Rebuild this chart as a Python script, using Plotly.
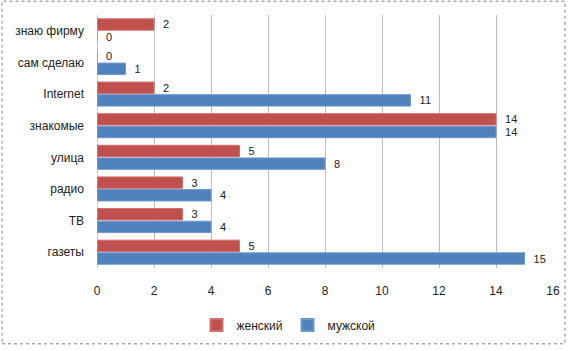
import plotly.graph_objects as go

categories = ["газеты", "ТВ", "радио", "улица", "знакомые", "Internet", "сам сделаю", "знаю фирму"]
female = [5, 3, 3, 5, 14, 2, 0, 2]
male = [15, 4, 4, 8, 14, 11, 1, 0]
x_ticks = [0, 2, 4, 6, 8, 10, 12, 14, 16]

W, H = 575, 351
L, R, T, B = 97, 22, 15, 79
pw = W - L - R
ph = H - T - B

font = "Liberation Sans, Arial, sans-serif"

fig = go.Figure()
fig.add_trace(go.Bar(
    y=categories, x=male, name="мужской", orientation="h",
    marker=dict(color="#4F81BD", line=dict(color="#6D98CF", width=1)),
    text=["  " + str(v) for v in male], textposition="outside", cliponaxis=False,
    constraintext="none", textfont=dict(size=11, color="#222222"), legendrank=2,
))
fig.add_trace(go.Bar(
    y=categories, x=female, name="женский", orientation="h",
    marker=dict(color="#C0504D", line=dict(color="#D0706D", width=1)),
    text=["  " + str(v) for v in female], textposition="outside", cliponaxis=False,
    constraintext="none", textfont=dict(size=11, color="#222222"), legendrank=1,
))

def px_x(p):
    return (p - L) / pw

def px_y(p):
    return 1 - (p - T) / ph

fig.add_shape(type="rect", xref="paper", yref="paper",
              x0=px_x(2), x1=px_x(565), y0=px_y(349), y1=px_y(1),
              line=dict(color="#808080", width=1, dash="dot"), layer="below")

fig.update_layout(
    width=W, height=H,
    margin=dict(l=L, r=R, t=T, b=B),
    paper_bgcolor="white", plot_bgcolor="white",
    barmode="group", bargap=0.2, bargroupgap=0.1,
    font=dict(family=font, size=12, color="#222222"),
    showlegend=True,
    legend=dict(orientation="h", x=0.42, xanchor="center", y=px_y(330), yanchor="middle",
                font=dict(size=12), itemwidth=30, traceorder="normal",
                itemsizing="constant"),
    xaxis=dict(range=[0, 16], tickvals=x_ticks, showgrid=True, gridcolor="#BFBFBF",
               gridwidth=1, zeroline=False, showline=False, ticks="",
               ticklabelstandoff=14, fixedrange=True),
    yaxis=dict(showgrid=False, zeroline=False, showline=False, ticks="",
               ticklabelstandoff=12, categoryorder="array", categoryarray=categories),
)
fig.add_shape(type="line", xref="x", yref="paper", x0=0, x1=0, y0=0, y1=1,
              line=dict(color="#A0A0A0", width=1))

fig.write_html("out.html")
